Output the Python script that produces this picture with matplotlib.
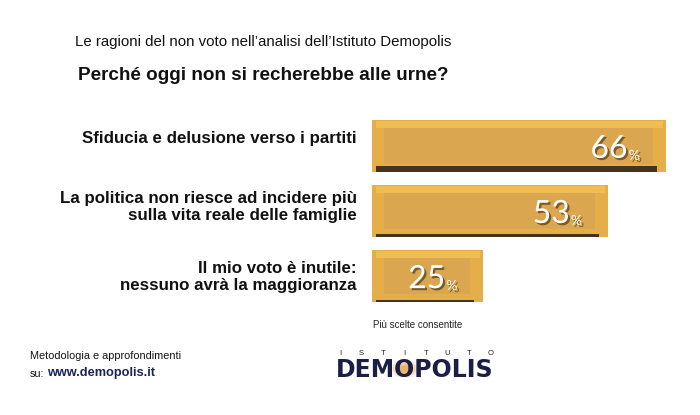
import matplotlib.pyplot as plt
import matplotlib.patheffects as pe
from matplotlib.patches import Circle

# data
labels = ['Sfiducia e delusione verso i partiti',
          'La politica non riesce ad incidere più\nsulla vita reale delle famiglie',
          'Il mio voto è inutile:\nnessuno avrà la maggioranza']
values = [66, 53, 25]

W, H = 700, 415
fig = plt.figure(figsize=(7, 4.15), dpi=100)
fig.patch.set_facecolor('white')

def fx(px):
    return px / W

def fy(py):
    return 1 - py / H

helv = ['Liberation Sans', 'DejaVu Sans']

# titles
fig.text(fx(263), fy(42), "Le ragioni del non voto nell\u2019analisi dell\u2019Istituto Demopolis",
         ha='center', va='center', fontsize=10.8, family=helv, color='#111111')
fig.text(fx(263), fy(76), "Perché oggi non si recherebbe alle urne?",
         ha='center', va='center', fontsize=13.6, fontweight='bold', family=helv, color='#111111')

# bar area
ax = fig.add_axes([fx(372), fy(310), fx(690) - fx(372), 200 / H])
ax.set_xlim(0, 318 / 4.45)
ax.set_ylim(2.52, -0.55)
ax.axis('off')

y = list(range(len(values)))
ax.barh(y, values, height=0.8, color='#E6AE48', zorder=1)
ax.barh([v - 0.33 for v in y], [v - 1.5 for v in values], left=0.8, height=0.1,
        color='#EFBD55', zorder=2)
ax.barh(y, [v - 5.5 for v in values], left=2.6, height=0.56, color='#DAA650', zorder=2)
shadow_h = [0.09, 0.04, 0.04]
for i, v in enumerate(values):
    ax.barh(i + 0.4 - shadow_h[i] / 2, v - 3, left=1.0, height=shadow_h[i],
            color='#45331F', zorder=3)

# value labels
shadow = [pe.withSimplePatchShadow(offset=(1.5, -1.5), shadow_rgbFace='black', alpha=0.45)]
for i, v in enumerate(values):
    ax.annotate(str(v), (v, i), xytext=(-38, -3), textcoords='offset pixels',
                ha='right', va='center', fontsize=23, family=['Lato', 'DejaVu Sans'],
                color='white', path_effects=shadow, zorder=5)
    ax.annotate('%', (v, i), xytext=(-37, -10), textcoords='offset pixels',
                ha='left', va='center', fontsize=10, family=['Lato', 'DejaVu Sans'],
                color='white', path_effects=shadow, zorder=5)

# category labels
label_y = [139, 207, 277]
for lab, ly in zip(labels, label_y):
    fig.text(fx(357), fy(ly), lab, ha='right', va='center', fontsize=12.2,
             fontweight='bold', family=helv, color='#111111', linespacing=1.2)

fig.text(fx(373), fy(325), 'Più scelte consentite', ha='left', va='center',
         fontsize=7, family=helv, color='#222222')

# footer
fig.text(fx(30), fy(356), 'Metodologia e approfondimenti', ha='left', va='center',
         fontsize=7.8, family=helv, color='#111111')
fig.text(fx(30), fy(374), 'su:', ha='left', va='center',
         fontsize=7.8, family=helv, color='#111111')
fig.text(fx(47), fy(373), 'www.demopolis.it', ha='left', va='center',
         fontsize=9.2, fontweight='bold', family=helv, color='#1B2457')

# logo
for r, a in [(15, 0.15), (12, 0.22), (9, 0.32), (6, 0.45)]:
    fig.patches.append(Circle((fx(405), fy(369)), r / W, transform=fig.transFigure,
                              color='#E49A3C', alpha=a, lw=0, zorder=0))
for k, ch in enumerate('ISTITUTO'):
    fig.text(fx(340 + k * 21.5), fy(353), ch, ha='center', va='center',
             fontsize=5.5, family=helv, color='#222222')
fig.text(fx(415), fy(370), 'DEMOPOLIS', ha='center', va='center', fontsize=17,
         fontweight='heavy', family=['DejaVu Sans'], color='#1C1F45')

fig.savefig('out.png', dpi=100, facecolor='white')
